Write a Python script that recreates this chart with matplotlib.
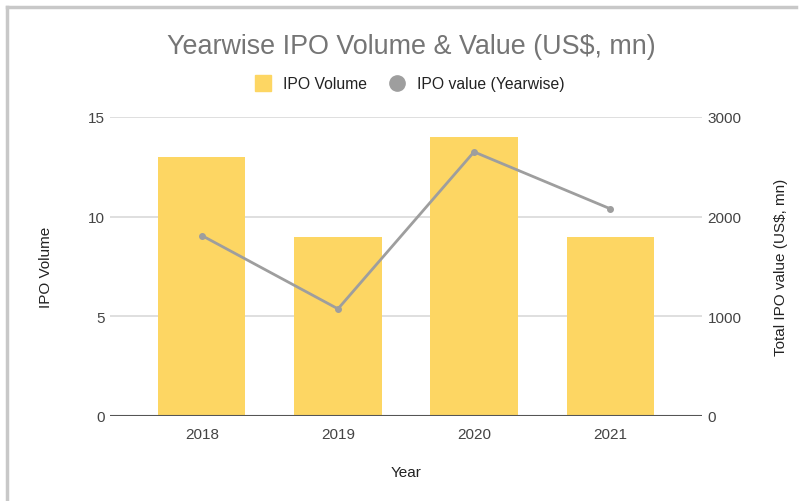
import numpy as np
import matplotlib
matplotlib.use('Agg')
import matplotlib.pyplot as plt
from matplotlib.lines import Line2D

plt.rcParams['font.family'] = ['Liberation Sans', 'DejaVu Sans']

# data
years = ['2018', '2019', '2020', '2021']
ipo_volume = [13, 9, 14, 9]
ipo_value = [1810, 1075, 2650, 2080]

bar_color = '#FDD663'
line_color = '#9E9E9E'
grid_color = '#D9D9D9'

fig = plt.figure(figsize=(8.02, 5.02), dpi=100)

# frame around the chart
fig.add_artist(Line2D([7/802, 796/802], [1 - 8/502, 1 - 8/502], color='#C8C8C8', lw=2.5))
fig.add_artist(Line2D([7/802, 7/802], [1 - 8/502, 0], color='#C8C8C8', lw=2.5))

ax = fig.add_axes([110/802, 1 - 417/502, 592/802, 299/502])
x = np.arange(len(years))

ax.bar(x, ipo_volume, width=0.64, color=bar_color, zorder=2)
ax.set_ylim(0, 15)
ax.set_yticks([0, 5, 10, 15])
ax.set_xlim(-0.676, 3.676)
ax.set_xticks(x)
ax.set_xticklabels(years)
ax.grid(axis='y', color=grid_color, lw=1.2, zorder=0)
ax.axhline(0, color='#555555', lw=1.5, zorder=3)
for s in ax.spines.values():
    s.set_visible(False)
ax.tick_params(length=0, labelsize=11, colors='#444444', pad=8)
ax.tick_params(axis='y', pad=4)
ax.set_ylabel('IPO Volume', fontsize=11, color='#222222', labelpad=25)
ax.set_xlabel('Year', fontsize=11, color='#222222', labelpad=17)

ax2 = ax.twinx()
ax2.plot(x, ipo_value, color=line_color, lw=2, marker='o', markersize=4, zorder=4)
ax2.set_ylim(0, 3000)
ax2.set_yticks([0, 1000, 2000, 3000])
for s in ax2.spines.values():
    s.set_visible(False)
ax2.tick_params(length=0, labelsize=11, colors='#444444', pad=4)
ax2.set_ylabel('Total IPO value (US$, mn)', fontsize=11, color='#222222', labelpad=23)

fig.text(0.5 + 10/802, 1 - 47/502, 'Yearwise IPO Volume & Value (US$, mn)', ha='center', va='center',
         fontsize=19.4, color='#757575')

handles = [
    Line2D([0], [0], marker='s', linestyle='none', markersize=11, color=bar_color, label='IPO Volume'),
    Line2D([0], [0], marker='o', linestyle='none', markersize=11, color=line_color, label='IPO value (Yearwise)'),
]
fig.legend(handles=handles, loc='center', bbox_to_anchor=(406/802, 1 - 85/502), ncol=2, frameon=False,
           fontsize=11.3, handletextpad=0.3, columnspacing=0.9, labelcolor='#222222')

fig.savefig('out.png', dpi=100)
